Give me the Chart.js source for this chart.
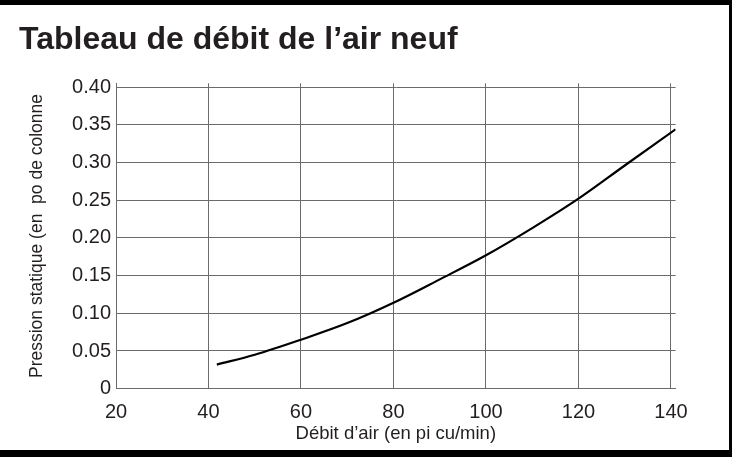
<!DOCTYPE html>
<html>
<head>
<meta charset="utf-8">
<script src="https://cdn.jsdelivr.net/npm/chart.js"></script>
<style>
  html, body { margin: 0; padding: 0; background: #fff; }
  #frame {
    box-sizing: border-box;
    width: 732px; height: 457px;
    border-top: 5px solid #000;
    border-bottom: 7px solid #000;
    border-right: 3px solid #000;
    background: #fff;
  }
  #wrap { position: relative; width: 729px; height: 445px; }
</style>
</head>
<body>
<div id="frame"><div id="wrap"><canvas id="airChart"></canvas></div></div>
<script>
// values
const flowCfm = [41.8, 50, 60, 70, 80, 90, 100, 110, 120, 130, 141];
const staticPressure = [0.032, 0.045, 0.065, 0.087, 0.114, 0.145, 0.177, 0.213, 0.252, 0.296, 0.344];
const xTicks = [20, 40, 60, 80, 100, 120, 140];
const yTicks = [0, 0.05, 0.10, 0.15, 0.20, 0.25, 0.30, 0.35, 0.40];

const titleText = 'Tableau de débit de l\u2019air neuf';
const xTitle = 'Débit d\u2019air (en pi cu/min)';
const yTitle = 'Pression statique (en  po de colonne';

const ink = '#231f20';
const gridColor = '#6b6b6b';
const fontFamily = '"Liberation Sans", Arial, Helvetica, sans-serif';

const points = flowCfm.map((x, i) => ({ x: x, y: staticPressure[i] }));

const ctx = document.getElementById('airChart').getContext('2d');
new Chart(ctx, {
  type: 'line',
  data: {
    datasets: [{
      data: points,
      borderColor: '#000',
      borderWidth: 2.2,
      pointRadius: 0,
      fill: false,
      cubicInterpolationMode: 'monotone'
    }]
  },
  options: {
    responsive: true,
    maintainAspectRatio: false,
    animation: false,
    layout: { padding: { left: 19, right: 53.4, top: 0, bottom: 0 } },
    plugins: {
      legend: { display: false },
      tooltip: { enabled: false },
      title: {
        display: true,
        text: titleText,
        align: 'start',
        color: ink,
        font: { family: fontFamily, size: 32, weight: 'bold' },
        padding: { top: 16.4, bottom: 23.5 }
      }
    },
    scales: {
      x: {
        type: 'linear',
        min: 20,
        max: 141,
        afterBuildTicks: s => { s.ticks = xTicks.map(v => ({ value: v })); },
        afterFit: s => { s.height = 61.3; },
        grid: { color: gridColor, lineWidth: 1, drawTicks: false },
        border: { color: gridColor, width: 1 },
        ticks: {
          color: ink,
          padding: 12,
          maxRotation: 0,
          font: { family: fontFamily, size: 20 }
        },
        title: {
          display: true,
          text: xTitle,
          color: ink,
          font: { family: fontFamily, size: 18.5 },
          padding: { top: 0, bottom: 5 }
        }
      },
      y: {
        min: 0,
        max: 0.405,
        afterBuildTicks: s => { s.ticks = yTicks.map(v => ({ value: v })); },
        afterFit: s => { s.width = 97; },
        grid: { color: gridColor, lineWidth: 1, drawTicks: false },
        border: { color: gridColor, width: 1 },
        ticks: {
          color: ink,
          padding: 5,
          font: { family: fontFamily, size: 20 },
          callback: v => v === 0 ? '0' : v.toFixed(2)
        },
        title: {
          display: true,
          text: yTitle,
          color: ink,
          font: { family: fontFamily, size: 17.5 },
          padding: { top: 8, bottom: 0 }
        }
      }
    }
  }
});
</script>
</body>
</html>
